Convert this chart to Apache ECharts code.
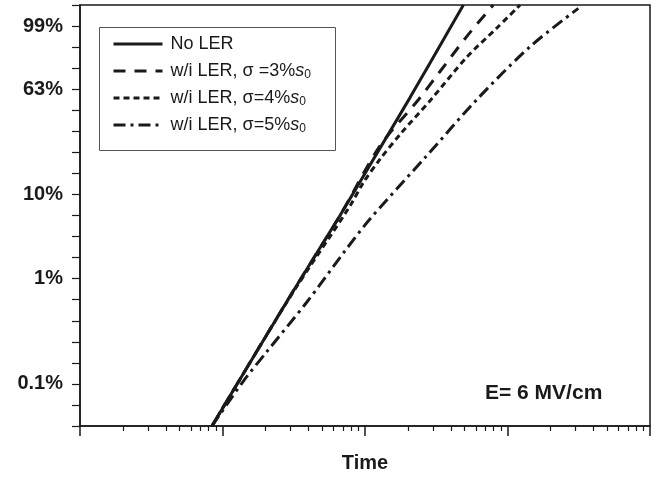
<!DOCTYPE html>
<html><head><meta charset="utf-8">
<script src="https://cdn.jsdelivr.net/npm/echarts@6/dist/echarts.min.js"></script>
<style>html,body{margin:0;padding:0;background:#fff}#c{width:664px;height:478px}</style>
</head><body><div id="c"></div>
<script>
// Series names
const seriesNames = ['No LER', 'w/i LER, σ =3%s0', 'w/i LER, σ=4%s0', 'w/i LER, σ=5%s0'];
// Time (arbitrary units, log axis) and Weibull value ln(-ln(1-F))
const timeNoLER = [8.44, 11.3, 30, 66.8, 207, 286, 490];
const weibNoLER = [-8, -7.28, -4.9, -3.0, -0.2, 0.62, 2.0];
const timeS3 = [8.44, 11.3, 30, 66.8, 127, 237, 336, 517, 794];
const weibS3 = [-8, -7.28, -4.9, -3.0, -1.354, -0.25, 0.42, 1.25, 2.0];
const timeS4 = [8.44, 11.3, 30, 78.5, 97.3, 127, 180, 290, 520, 839, 1225];
const weibS4 = [-8, -7.28, -4.92, -2.774, -2.22, -1.669, -1.037, -0.249, 0.768, 1.449, 2.0];
const timeS5 = [8.44, 13.9, 20.4, 39.0, 72.4, 108, 268, 608, 1439, 3141];
const weibS5 = [-8, -6.95, -6.24, -5.06, -3.84, -3.09, -1.6, -0.25, 1.01, 1.92];
// Y tick labels (Weibull value -> percent label)
const yLabelValues = [1.5, 0, -2.5, -4.5, -7];
const yLabelTexts = ['99%', '63%', '10%', '1%', '0.1%'];
// Minor tick multipliers within each decade
const minorMultipliers = [2, 3, 4, 5, 6, 7, 8, 9];
const decades = [0, 1, 2, 3];

const legendRich = {
  '0': '{t|No LER}{sub| }',
  '1': '{t|w/i LER, σ =3%}{i|s}{sub|0}',
  '2': '{t|w/i LER, σ=4%}{i|s}{sub|0}',
  '3': '{t|w/i LER, σ=5%}{i|s}{sub|0}'
};

function pairs(t, w) { return t.map((v, i) => [v, w[i]]); }
const minorTicks = [];
decades.forEach(d => minorMultipliers.forEach(m => minorTicks.push(d + Math.log10(m))));

const ink = '#1a1a1a';
const font = '"Liberation Sans", Arial, sans-serif';
const styles = [
  { type: 'solid', width: 3, smooth: false },
  { type: [12, 9], width: 3, smooth: 0.3 },
  { type: [6, 4], width: 3, smooth: 0.3 },
  { type: [12, 5, 3, 5], width: 3, smooth: 0.3 }
];
const dataSets = [pairs(timeNoLER, weibNoLER), pairs(timeS3, weibS3), pairs(timeS4, weibS4), pairs(timeS5, weibS5)];

const chart = echarts.init(document.getElementById('c'));
chart.setOption({
  animation: false,
  backgroundColor: '#fff',
  grid: { left: 80, right: 14, top: 5, bottom: 50, show: true, borderColor: ink, borderWidth: 1.5, containLabel: false },
  xAxis: [{
    type: 'log', logBase: 10, min: 1, max: 10000,
    name: 'Time', nameLocation: 'middle', nameGap: 27,
    nameTextStyle: { fontFamily: font, fontWeight: 'bold', fontSize: 20, color: ink },
    axisLine: { onZero: false, lineStyle: { color: ink, width: 1.5 } },
    axisTick: { show: true, inside: false, length: 10, lineStyle: { color: ink, width: 1.5 } },
    axisLabel: { show: false },
    splitLine: { show: false }, minorTick: { show: false }
  }, {
    type: 'value', min: 0, max: 4, position: 'bottom',
    axisLine: { show: false, onZero: false },
    axisTick: { show: true, inside: false, length: 5, customValues: minorTicks, lineStyle: { color: ink, width: 1.2 } },
    axisLabel: { show: false },
    splitLine: { show: false }
  }],
  yAxis: {
    type: 'value', min: -8, max: 2, interval: 0.5,
    axisLine: { show: true, onZero: false, lineStyle: { color: ink, width: 1.5 } },
    axisTick: { show: true, inside: false, length: 8, lineStyle: { color: ink, width: 1.2 } },
    axisLabel: {
      margin: 17, fontFamily: font, fontWeight: 'bold', fontSize: 20, color: ink,
      formatter: v => {
        const i = yLabelValues.findIndex(x => Math.abs(x - v) < 1e-6);
        return i >= 0 ? yLabelTexts[i] : '';
      }
    },
    splitLine: { show: false }
  },
  legend: {
    left: 112, top: 34, orient: 'vertical', padding: 0,
    itemWidth: 49, itemHeight: 14, itemGap: 7,
    data: seriesNames,
    itemStyle: { opacity: 0, color: 'rgba(0,0,0,0)', borderWidth: 0 },
    lineStyle: { width: 3, color: ink },
    formatter: name => legendRich[seriesNames.indexOf(name)],
    textStyle: {
      fontFamily: font, fontSize: 18, color: ink, padding: [0, 0, 0, 3],
      rich: {
        t: { fontFamily: font, fontSize: 18, lineHeight: 20, color: ink },
        i: { fontFamily: font, fontSize: 18, lineHeight: 20, fontStyle: 'italic', color: ink },
        sub: { fontFamily: font, fontSize: 12, lineHeight: 12, color: ink, padding: [8, 0, 0, 0] }
      }
    }
  },
  graphic: [
    { type: 'rect', left: 97, top: 25, shape: { width: 236, height: 123 }, style: { fill: 'none', stroke: '#555', lineWidth: 1 }, z: 10 },
    { type: 'text', left: 485, top: 383, style: { text: 'E= 6 MV/cm', fontFamily: font, fontWeight: 'bold', fontSize: 21, fill: ink } }
  ],
  series: dataSets.map((d, i) => ({
    name: seriesNames[i], type: 'line', xAxisIndex: 0, data: d,
    showSymbol: false, symbol: 'none', smooth: styles[i].smooth, clip: true,
    lineStyle: { color: ink, width: styles[i].width, type: styles[i].type },
    itemStyle: { color: ink }
  }))
});
</script></body></html>
